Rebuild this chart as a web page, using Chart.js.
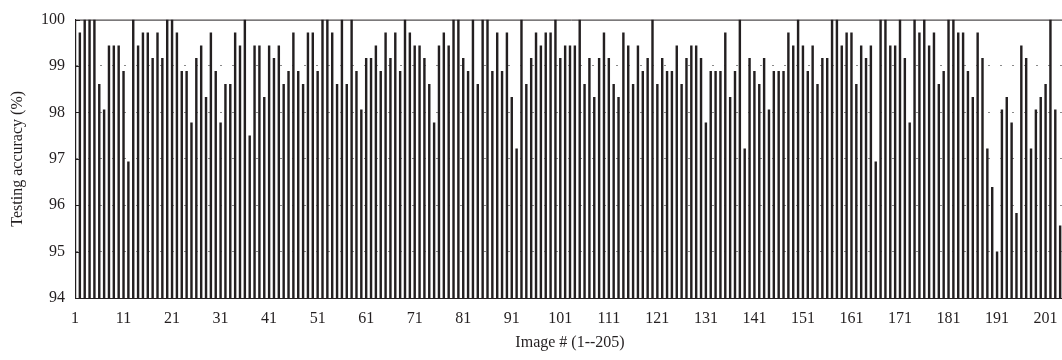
<!DOCTYPE html>
<html>
<head>
  <title>Testing accuracy per image</title>
  <script src="https://cdn.jsdelivr.net/npm/chart.js"></script>
  <style>
    html, body {
      margin: 0;
      padding: 0;
      overflow: hidden;
      background: #ffffff;
    }
    #clip {
      width: 1062px;
      height: 360px;
      overflow: hidden;
      position: relative;
    }
    #chartBox {
      position: absolute;
      left: 0;
      top: 0;
      width: 1068px;
      height: 360px;
    }
  </style>
</head>
<body>
  <div id="clip">
    <div id="chartBox">
      <canvas id="chart" width="1068" height="360"></canvas>
    </div>
  </div>
  <script>
    // image numbers 1..205 on the x axis, labelled every 10th
    const imageNumbers = Array.from({ length: 205 }, (_, i) => String(i + 1));
    const yTicks = [94, 95, 96, 97, 98, 99, 100];

    // testing accuracy (%) per image
    const accuracy = [
      100, 99.72, 100, 100, 100, 98.61, 98.06, 99.44, 99.44, 99.44,
      98.89, 96.94, 100, 99.44, 99.72, 99.72, 99.17, 99.72, 99.17, 100,
      100, 99.72, 98.89, 98.89, 97.78, 99.17, 99.44, 98.33, 99.72, 98.89,
      97.78, 98.61, 98.61, 99.72, 99.44, 100, 97.5, 99.44, 99.44, 98.33,
      99.44, 99.17, 99.44, 98.61, 98.89, 99.72, 98.89, 98.61, 99.72, 99.72,
      98.89, 100, 100, 99.72, 98.61, 100, 98.61, 100, 98.89, 98.06,
      99.17, 99.17, 99.44, 98.89, 99.72, 99.17, 99.72, 98.89, 100, 99.72,
      99.44, 99.44, 99.17, 98.61, 97.78, 99.44, 99.72, 99.44, 100, 100,
      99.17, 98.89, 100, 98.61, 100, 100, 98.89, 99.72, 98.89, 99.72,
      98.33, 97.22, 100, 98.61, 99.17, 99.72, 99.44, 99.72, 99.72, 100,
      99.17, 99.44, 99.44, 99.44, 100, 98.61, 99.17, 98.33, 99.17, 99.72,
      99.17, 98.61, 98.33, 99.72, 99.44, 98.61, 99.44, 98.89, 99.17, 100,
      98.61, 99.17, 98.89, 98.89, 99.44, 98.61, 99.17, 99.44, 99.44, 99.17,
      97.78, 98.89, 98.89, 98.89, 99.72, 98.33, 98.89, 100, 97.22, 99.17,
      98.89, 98.61, 99.17, 98.06, 98.89, 98.89, 98.89, 99.72, 99.44, 100,
      99.44, 98.89, 99.44, 98.61, 99.17, 99.17, 100, 100, 99.44, 99.72,
      99.72, 98.61, 99.44, 99.17, 99.44, 96.94, 100, 100, 99.44, 99.44,
      100, 99.17, 97.78, 100, 99.72, 100, 99.44, 99.72, 98.61, 98.89,
      100, 100, 99.72, 99.72, 98.89, 98.33, 99.72, 99.17, 97.22, 96.39,
      95.0, 98.06, 98.33, 97.78, 95.83, 99.44, 99.17, 97.22, 98.06, 98.33,
      98.61, 100, 98.06, 95.56, 99.72
    ];

    const serif = '"Liberation Serif", "Times New Roman", serif';

    // top frame line and short inward ticks on the y axis
    const framePlugin = {
      id: 'frame',
      afterDatasetsDraw(chart) {
        const { ctx, chartArea } = chart;
        const y = chart.scales.y;
        ctx.save();
        ctx.strokeStyle = '#231f20';
        ctx.lineWidth = 1;
        ctx.beginPath();
        ctx.moveTo(chartArea.left, chartArea.top + 0.5);
        ctx.lineTo(chart.width, chartArea.top + 0.5);
        yTicks.forEach(v => {
          const py = Math.round(y.getPixelForValue(v)) + 0.5;
          ctx.moveTo(chartArea.left, py);
          ctx.lineTo(chartArea.left + 5, py);
        });
        ctx.stroke();
        ctx.restore();
      }
    };

    new Chart(document.getElementById('chart'), {
      type: 'bar',
      data: {
        labels: imageNumbers,
        datasets: [{
          data: accuracy,
          backgroundColor: '#231f20',
          borderWidth: 0,
          barPercentage: 0.5,
          categoryPercentage: 1
        }]
      },
      plugins: [framePlugin],
      options: {
        responsive: false,
        animation: false,
        layout: { padding: { top: 18, right: 0, left: 0, bottom: 0 } },
        plugins: {
          legend: { display: false },
          tooltip: { enabled: false }
        },
        scales: {
          x: {
            offset: false,
            grid: { display: false, drawTicks: true, tickLength: 8 },
            border: { display: true, color: '#231f20', width: 1 },
            ticks: {
              autoSkip: false,
              maxRotation: 0,
              padding: 3,
              color: '#231f20',
              font: { family: serif, size: 16 },
              callback: function(value, index) {
                return index % 10 === 0 ? this.getLabelForValue(value) : '';
              }
            },
            title: {
              display: true,
              text: 'Image # (1--205)',
              color: '#231f20',
              font: { family: serif, size: 16 },
              padding: { top: 0, bottom: 8 }
            },
            afterFit: scale => { scale.height = 62; }
          },
          y: {
            min: 94,
            max: 100,
            grid: {
              drawTicks: false,
              color: ctx => (ctx.tick.value === 94 || ctx.tick.value === 100) ? 'rgba(0,0,0,0)' : '#8a8a8a',
              lineWidth: 1
            },
            border: { display: true, color: '#231f20', width: 1, dash: [2, 10] },
            ticks: {
              stepSize: 1,
              padding: 10,
              color: '#231f20',
              font: { family: serif, size: 16 }
            },
            title: {
              display: true,
              text: 'Testing accuracy (%)',
              color: '#231f20',
              font: { family: serif, size: 16 },
              padding: { top: 8, bottom: 0 }
            },
            afterFit: scale => { scale.width = 75; }
          }
        }
      }
    });
  </script>
</body>
</html>
